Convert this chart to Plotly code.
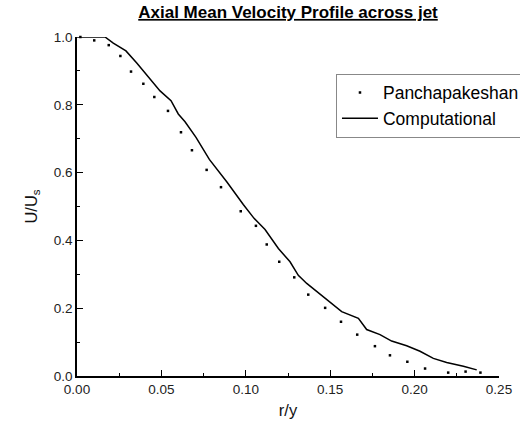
import plotly.graph_objects as go

# Panchapakeshan (experimental) points
exp_r = [0.002, 0.0102, 0.0188, 0.0257, 0.032, 0.0393, 0.0458, 0.0539, 0.0616,
         0.0681, 0.0768, 0.0853, 0.097, 0.106, 0.1124, 0.1198, 0.1287, 0.137,
         0.147, 0.1564, 0.166, 0.1765, 0.1854, 0.1957, 0.2062, 0.2199, 0.2302, 0.239]
exp_u = [1.0, 0.990, 0.976, 0.944, 0.898, 0.862, 0.823, 0.782, 0.719,
         0.666, 0.608, 0.557, 0.486, 0.443, 0.388, 0.337, 0.291, 0.240,
         0.201, 0.160, 0.122, 0.088, 0.061, 0.042, 0.022, 0.010, 0.013, 0.010]

# Computational profile
cfd_r = [0.0, 0.0166, 0.0215, 0.029, 0.0354, 0.0422, 0.0492, 0.0557, 0.060,
         0.064, 0.0705, 0.0784, 0.0887, 0.0985, 0.1049, 0.1114, 0.1193, 0.1262,
         0.1311, 0.1361, 0.1463, 0.1568, 0.1667, 0.1716, 0.1795, 0.1864, 0.1953,
         0.2032, 0.2111, 0.219, 0.2289, 0.2368]
cfd_u = [1.0, 1.0, 0.982, 0.959, 0.923, 0.883, 0.841, 0.812, 0.773,
         0.750, 0.704, 0.639, 0.573, 0.506, 0.465, 0.432, 0.376, 0.337,
         0.297, 0.273, 0.233, 0.190, 0.170, 0.137, 0.122, 0.103, 0.089,
         0.073, 0.052, 0.040, 0.029, 0.018]

x_ticks = [0.0, 0.05, 0.10, 0.15, 0.20, 0.25]
x_labels = ["0.00", "0.05", "0.10", "0.15", "0.20", "0.25"]
y_ticks = [0.0, 0.2, 0.4, 0.6, 0.8, 1.0]
y_labels = ["0.0", "0.2", "0.4", "0.6", "0.8", "1.0"]

FONT = "Liberation Sans, Arial, sans-serif"

fig = go.Figure()
fig.add_trace(go.Scatter(
    x=exp_r, y=exp_u, mode="markers", name="Panchapakeshan",
    marker=dict(symbol="square", size=2.5, color="black", line=dict(width=0)),
    cliponaxis=False,
))
fig.add_trace(go.Scatter(
    x=cfd_r, y=cfd_u, mode="lines", name="Computational",
    line=dict(color="black", width=1.5),
    cliponaxis=False,
))

axis_common = dict(
    showgrid=False, zeroline=False, showline=True, linecolor="black",
    linewidth=1.5, mirror=False, ticks="inside", ticklen=6, tickwidth=1.3,
    tickcolor="black", layer="above traces",
    tickfont=dict(family=FONT, size=13.5, color="#222"),
)

fig.update_xaxes(
    range=[0, 0.25], tickvals=x_ticks, ticktext=x_labels,
    minor=dict(ticks="inside", ticklen=3, dtick=0.025, tickcolor="black", tickwidth=1.3),
    title=dict(text="r/y", font=dict(family=FONT, size=16.5, color="#111"), standoff=8),
    **axis_common,
)
fig.update_yaxes(
    range=[0, 1.0], tickvals=y_ticks, ticktext=y_labels,
    minor=dict(ticks="inside", ticklen=3, dtick=0.1, tickcolor="black", tickwidth=1.3),
    title=dict(text="U/U<sub>s</sub>", font=dict(family=FONT, size=16.5, color="#111"), standoff=12),
    **axis_common,
)

fig.update_layout(
    width=520, height=428,
    margin=dict(l=77, r=21, t=37, b=52, autoexpand=False),
    paper_bgcolor="white", plot_bgcolor="white",
    title=dict(text="<u><b>Axial Mean Velocity Profile across jet</b></u>",
               x=0.5, xref="paper", xanchor="center",
               y=1 - 12 / 428, yref="container", yanchor="middle",
               font=dict(family=FONT, size=17, color="black")),
    legend=dict(x=0.6137, y=0.892, xanchor="left", yanchor="top",
                bgcolor="white", bordercolor="#888", borderwidth=1,
                font=dict(family=FONT, size=17.5, color="black"),
                itemwidth=36, tracegroupgap=0),
    showlegend=True,
)

fig.write_html("out.html")
